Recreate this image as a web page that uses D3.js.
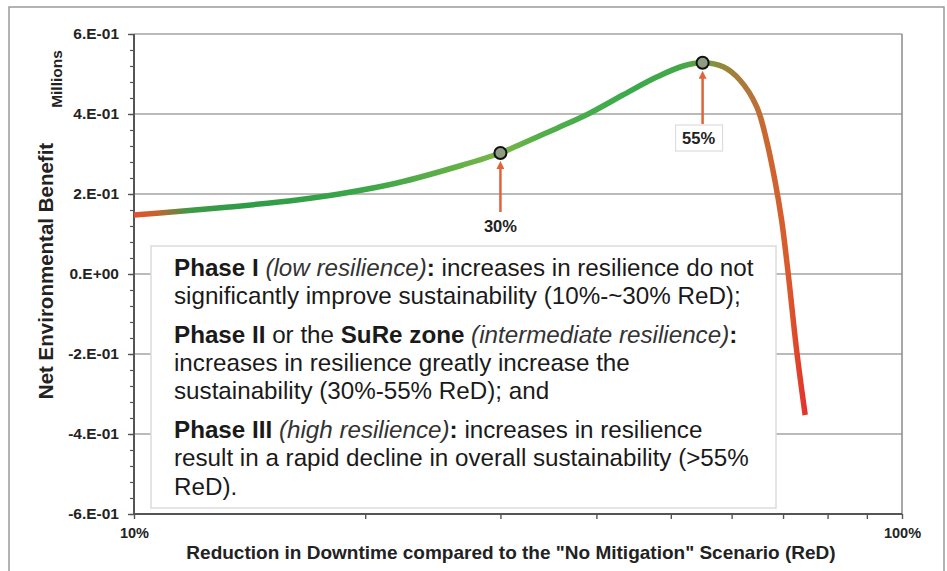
<!DOCTYPE html>
<html>
<head>
<meta charset="utf-8">
<script src="https://cdn.jsdelivr.net/npm/d3@7/dist/d3.min.js"></script>
<style>
  html, body { margin: 0; padding: 0; background: #fff; }
  svg { display: block; font-family: "Liberation Sans", Arial, sans-serif; }
</style>
</head>
<body>
<svg id="chart" width="947" height="571"></svg>
<script>
// ---- data ----
const redPct = [10, 10.9, 13.3, 16.3, 18.5, 22, 26.8, 30, 32.1, 35.5, 39.2, 43.3, 48, 51.9, 55, 58.5, 61.5, 64.7, 66.6, 68.3, 69.7, 71.1, 72.9, 74.8];
const netBenefit = [0.1475, 0.153, 0.1675, 0.185, 0.2, 0.2275, 0.2725, 0.3025, 0.327, 0.364, 0.402, 0.4475, 0.493, 0.52, 0.528, 0.518, 0.485, 0.418, 0.335, 0.235, 0.135, 0.0, -0.19, -0.3525];
const markedPct = [30, 55];
const markedLabels = ["30%", "55%"];
const yTickValues = [-0.6, -0.4, -0.2, 0, 0.2, 0.4, 0.6];
const yTickLabels = ["-6.E-01", "-4.E-01", "-2.E-01", "0.E+00", "2.E-01", "4.E-01", "6.E-01"];
const xTickValues = [10, 100];
const xTickLabels = ["10%", "100%"];
const xTitle = 'Reduction in Downtime compared to the "No Mitigation" Scenario (ReD)';
const yTitle = "Net Environmental Benefit";
const yUnit = "Millions";

// gradient colour stops along the curve (style)
const gradStops = [
  [10, "#e4512b"], [10.7, "#c4632f"], [11.8, "#3d9a45"], [14, "#2f9b48"], [20, "#3ca649"],
  [26, "#62b046"], [30, "#7ab546"], [34, "#52ae4a"], [45, "#3aaa4c"], [52, "#45a848"],
  [55, "#6c9d40"], [58, "#8f8a3a"], [63, "#b2763a"], [67, "#cc662f"], [71, "#d95b2c"], [75, "#e6302a"]
];

const svg = d3.select("#chart");
const L = 134, R = 902, T = 34, B = 514;

const x = d3.scaleLog().domain([10, 100]).range([L, R]);
const y = d3.scaleLinear().domain([-0.6, 0.6]).range([B, T]);

// outer frame
svg.append("rect").attr("x", 9).attr("y", 7).attr("width", 935).attr("height", 580)
  .attr("fill", "none").attr("stroke", "#9a9a9a").attr("stroke-width", 1.5);

// gridlines
svg.append("g").selectAll("line").data(yTickValues.filter(v => v > -0.6)).join("line")
  .attr("x1", L).attr("x2", R).attr("y1", d => y(d)).attr("y2", d => y(d))
  .attr("stroke", "#a3a3a3").attr("stroke-width", 1.5);
// right border
svg.append("line").attr("x1", R).attr("x2", R).attr("y1", T).attr("y2", B)
  .attr("stroke", "#8a8a8a").attr("stroke-width", 1.5);

// y axis
const yMinor = d3.range(-0.6, 0.6001, 0.04);
const yAxisG = svg.append("g").attr("transform", `translate(${L},0)`);
yAxisG.call(d3.axisLeft(y).tickValues(yMinor).tickSize(4).tickFormat(""))
  .call(g => g.select(".domain").remove())
  .call(g => g.selectAll("line").attr("stroke", "#555").attr("stroke-width", 1.2));
const yMajor = svg.append("g").attr("transform", `translate(${L},0)`)
  .call(d3.axisLeft(y).tickValues(yTickValues).tickSize(6).tickPadding(9)
    .tickFormat((d, i) => yTickLabels[i]));
yMajor.select(".domain").remove();
yMajor.selectAll("line").attr("stroke", "#555").attr("stroke-width", 1.4);
yMajor.selectAll("text").attr("font-family", "Liberation Sans, Arial, sans-serif")
  .attr("font-size", 15.5).attr("font-weight", "bold").attr("fill", "#222");
svg.append("line").attr("x1", L).attr("x2", L).attr("y1", T).attr("y2", B)
  .attr("stroke", "#555").attr("stroke-width", 2);

// x axis
const xMinor = d3.range(10, 101, 10);
const xAxisG = svg.append("g").attr("transform", `translate(0,${B})`)
  .call(d3.axisBottom(x).tickValues(xMinor).tickSize(5).tickFormat(""));
xAxisG.select(".domain").remove();
xAxisG.selectAll("line").attr("stroke", "#555").attr("stroke-width", 1.4);
const xMajor = svg.append("g").attr("transform", `translate(0,${B})`)
  .call(d3.axisBottom(x).tickValues(xTickValues).tickSize(5).tickPadding(9)
    .tickFormat((d, i) => xTickLabels[i]));
xMajor.select(".domain").remove();
xMajor.selectAll("line").attr("stroke", "#555");
xMajor.selectAll("text").attr("font-family", "Liberation Sans, Arial, sans-serif")
  .attr("font-size", 14.5).attr("font-weight", "bold").attr("fill", "#222");
svg.append("line").attr("x1", L).attr("x2", R).attr("y1", B).attr("y2", B)
  .attr("stroke", "#555").attr("stroke-width", 2);

// axis titles
svg.append("text").attr("x", 511).attr("y", 559).attr("text-anchor", "middle")
  .attr("font-size", 19).attr("font-weight", "bold").attr("fill", "#222").text(xTitle);
svg.append("text").attr("transform", "translate(53,271) rotate(-90)").attr("text-anchor", "middle")
  .attr("font-size", 20.5).attr("font-weight", "bold").attr("fill", "#222").text(yTitle);
svg.append("text").attr("transform", "translate(62,79) rotate(-90)").attr("text-anchor", "middle")
  .attr("font-size", 15.5).attr("font-weight", "bold").attr("fill", "#222").text(yUnit);

// gradient
const defs = svg.append("defs");
const grad = defs.append("linearGradient").attr("id", "curveGrad")
  .attr("gradientUnits", "userSpaceOnUse")
  .attr("x1", x(10)).attr("x2", x(75)).attr("y1", 0).attr("y2", 0);
const span = x(75) - x(10);
grad.selectAll("stop").data(gradStops).join("stop")
  .attr("offset", d => (x(d[0]) - x(10)) / span)
  .attr("stop-color", d => d[1]);
defs.append("marker").attr("id", "arrow").attr("viewBox", "0 0 10 10")
  .attr("refX", 5).attr("refY", 5).attr("markerWidth", 3.2).attr("markerHeight", 3.2)
  .attr("orient", "auto").append("path").attr("d", "M0,0 L10,5 L0,10 z").attr("fill", "#e0633a");

// text box
svg.append("rect").attr("x", 151).attr("y", 246).attr("width", 625).attr("height", 262)
  .attr("fill", "#fff").attr("stroke", "#dcdcdc").attr("stroke-width", 1.5);

// curve
const data = redPct.map((p, i) => [p, netBenefit[i]]);
const line = d3.line().x(d => x(d[0])).y(d => y(d[1])).curve(d3.curveCatmullRom.alpha(0.5));
svg.append("path").datum(data).attr("d", line).attr("fill", "none")
  .attr("stroke", "url(#curveGrad)").attr("stroke-width", 5.5).attr("stroke-linecap", "butt");

// annotations
const marked = markedPct.map((p, i) => {
  const idx = redPct.indexOf(p);
  return { p, v: netBenefit[idx], label: markedLabels[i] };
});
const arrowSpecs = [
  { y0: 212, boxed: false, ty: 232 },
  { y0: 124, boxed: true, ty: 144 }
];
marked.forEach((m, i) => {
  const s = arrowSpecs[i];
  const cx = x(m.p), cy = y(m.v);
  svg.append("line").attr("x1", cx).attr("x2", cx).attr("y1", s.y0).attr("y2", cy + 12)
    .attr("stroke", "#e0633a").attr("stroke-width", 2.5).attr("marker-end", "url(#arrow)");
  if (s.boxed) {
    svg.append("rect").attr("x", cx - 27).attr("y", s.y0 + 1).attr("width", 47).attr("height", 26)
      .attr("fill", "#fff").attr("stroke", "#dddddd").attr("stroke-width", 1.2);
  }
  svg.append("text").attr("x", s.boxed ? cx - 4 : cx).attr("y", s.ty).attr("text-anchor", "middle")
    .attr("font-size", 16.5).attr("font-weight", "bold").attr("fill", "#222").text(m.label);
  svg.append("circle").attr("cx", cx).attr("cy", cy).attr("r", 6)
    .attr("fill", "#8e9c80").attr("stroke", "#111").attr("stroke-width", 2);
});

// description text
const lines = [
  [["Phase I", "b"], [" (low resilience)", "i"], [":", "b"], [" increases in resilience do not", ""]],
  [["significantly improve sustainability (10%-~30% ReD);", ""]],
  [["Phase II", "b"], [" or the ", ""], ["SuRe zone", "b"], [" (intermediate resilience)", "i"], [":", "b"]],
  [["increases in resilience greatly increase the", ""]],
  [["sustainability (30%-55% ReD); and", ""]],
  [["Phase III", "b"], [" (high resilience)", "i"], [":", "b"], [" increases in resilience", ""]],
  [["result in a rapid decline in overall sustainability (>55%", ""]],
  [["ReD).", ""]]
];
const lineY = [276, 304, 343, 371, 399, 438, 466, 495];
lines.forEach((segs, i) => {
  const t = svg.append("text").attr("x", 174).attr("y", lineY[i])
    .attr("font-size", 24.2).attr("fill", "#1a1a1a").attr("xml:space", "preserve");
  segs.forEach(([s, st]) => {
    t.append("tspan").text(s)
      .attr("font-weight", st === "b" ? "bold" : null)
      .attr("font-style", st === "i" ? "italic" : null)
      .attr("fill", st === "i" ? "#333" : null);
  });
});
</script>
</body>
</html>
